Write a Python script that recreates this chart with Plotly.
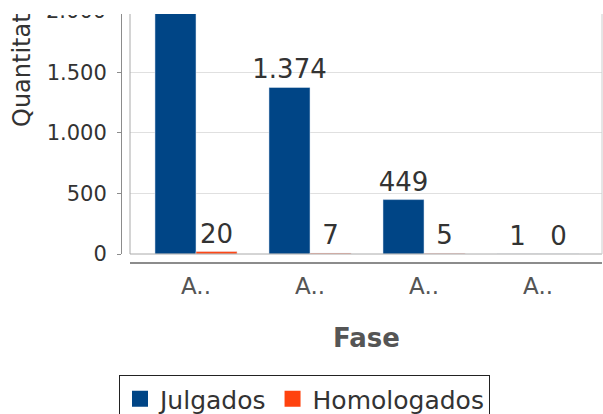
import plotly.graph_objects as go

# ---- data ----
cat_labels = ["A..", "A..", "A..", "A.."]
julgados = [2050, 1374, 449, 1]
homologados = [20, 7, 5, 0]
y_ticks = [0, 500, 1000, 1500]
series_names = ["Julgados", "Homologados"]
series_colors = ["#004586", "#ff420e"]

W, H = 603, 414
ML, MR, MT, MB = 121, 1, 14, 151
PW = W - ML - MR
PH = H - MT - MB

def px_x(p):
    return (p - ML) / PW

def px_y(p):
    return (H - MB - p) / PH

xs = list(range(len(cat_labels)))
font = "DejaVu Sans"

fig = go.Figure()
for name, vals, col in zip(series_names, [julgados, homologados], series_colors):
    fig.add_trace(go.Bar(
        x=xs, y=vals, name=name, marker_color=col, showlegend=False,
        texttemplate="%{y:,d}", textposition="outside", constraintext="none",
        textfont=dict(size=26, color="#333333", family=font), cliponaxis=True,
    ))
# legend entries with larger square swatches
for name, col in zip(series_names, series_colors):
    fig.add_trace(go.Scatter(
        x=[None], y=[None], name=name, mode="markers",
        marker=dict(symbol="square", size=16, color=col), showlegend=True,
    ))

x0 = px_x(130)
y0 = px_y(254)

fig.update_layout(
    width=W, height=H,
    margin=dict(l=ML, r=MR, t=MT, b=MB, autoexpand=False),
    paper_bgcolor="white", plot_bgcolor="white",
    separators=",.",
    barmode="group", bargap=0.28, bargroupgap=0,
    font=dict(family=font, color="#333333"),
    showlegend=True,
    legend=dict(
        orientation="h", x=px_x(119), y=px_y(375), xanchor="left", yanchor="top",
        bordercolor="#222222", borderwidth=1, font=dict(size=25, color="#333333", family=font),
        bgcolor="white", traceorder="normal",
    ),
    xaxis=dict(
        domain=[x0, 1], anchor="free", position=0,
        range=[-0.579, 3.561], tickmode="array", tickvals=xs, ticktext=cat_labels,
        showgrid=False, zeroline=False, showline=True, linecolor="#8c8c8c", linewidth=2,
        ticks="", tickfont=dict(size=23, color="#555555", family=font),
        ticklabelstandoff=2,
    ),
    yaxis=dict(
        domain=[y0, 1], anchor="free", position=0,
        range=[0, 1980], tickmode="array", tickvals=y_ticks, tickformat=",d",
        showgrid=True, gridcolor="#e0e0e0", gridwidth=1, zeroline=False,
        showline=True, linecolor="#8c8c8c", linewidth=1,
        ticks="outside", ticklen=4, tickcolor="#8c8c8c",
        tickfont=dict(size=21, color="#333333", family=font),
        ticklabelstandoff=6,
    ),
    shapes=[
        dict(type="line", xref="paper", yref="paper", x0=x0, x1=x0, y0=y0, y1=1,
             line=dict(color="#aaaaaa", width=1)),
        dict(type="line", xref="paper", yref="paper", x0=x0, x1=1, y0=y0, y1=y0,
             line=dict(color="#aaaaaa", width=1)),
        dict(type="line", xref="paper", yref="paper", x0=1, x1=1, y0=y0, y1=1,
             line=dict(color="#cccccc", width=1)),
    ],
    annotations=[
        dict(text="Quantitat", textangle=-90, xref="paper", yref="paper",
             x=px_x(22), y=px_y(70), xanchor="center", yanchor="middle",
             showarrow=False, font=dict(size=24, color="#333333", family=font)),
        dict(text="<b>Fase</b>", xref="paper", yref="paper",
             x=px_x(366), y=px_y(338), xanchor="center", yanchor="middle",
             showarrow=False, font=dict(size=26, color="#555555", family=font)),
        dict(text="2.000", xref="paper", yref="paper",
             x=px_x(108), y=px_y(13), xanchor="right", yanchor="top",
             height=8, valign="bottom", showarrow=False,
             font=dict(size=21, color="#333333", family=font)),
    ],
)

fig.write_html("out.html", config={"displayModeBar": False},
               post_script="document.body.style.margin='0';document.body.style.overflow='hidden';")
